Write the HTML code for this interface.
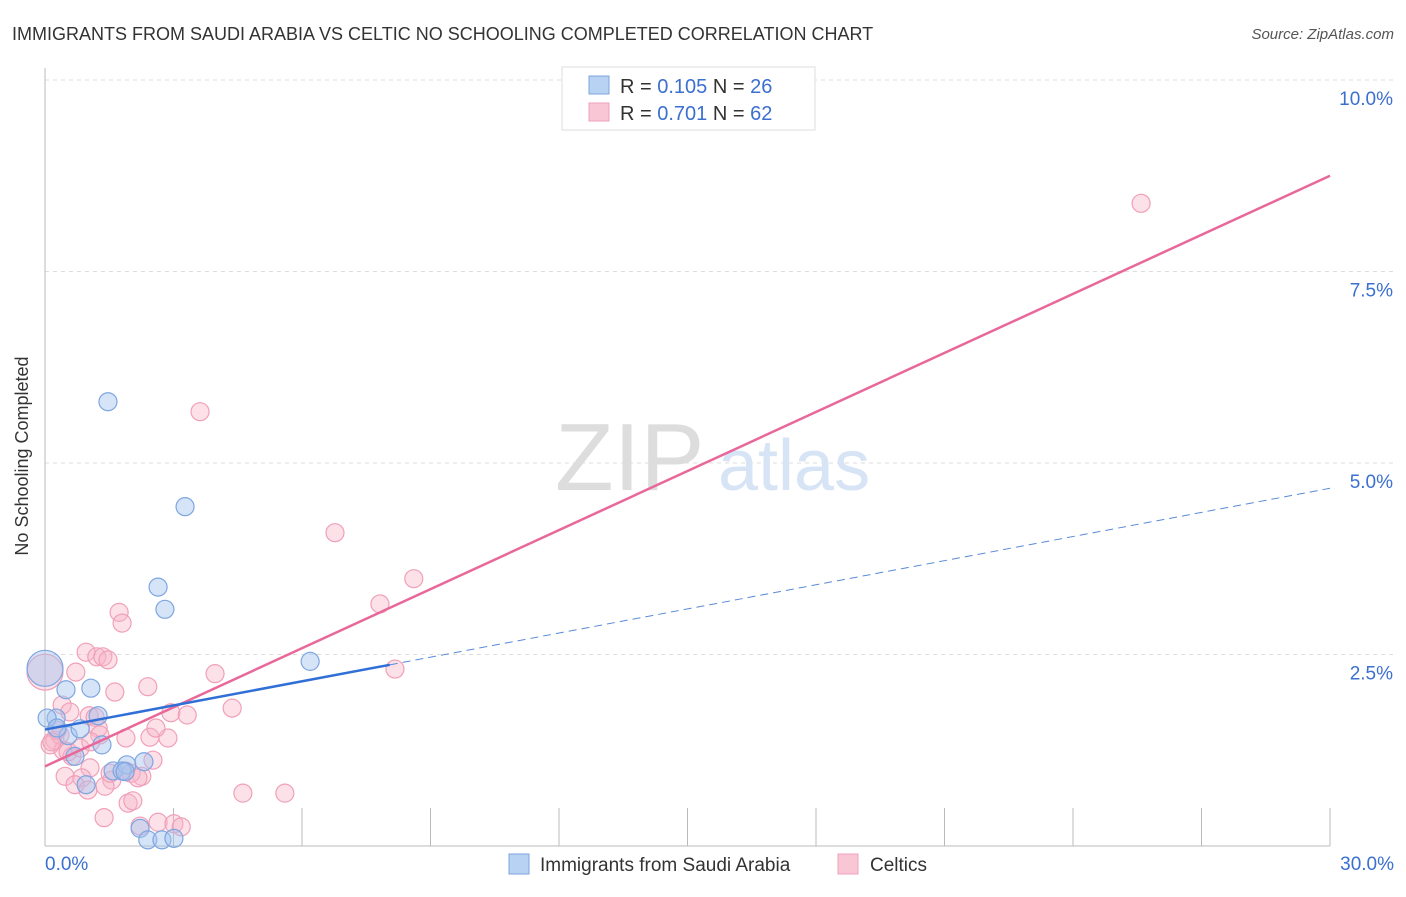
<!DOCTYPE html>
<html><head><meta charset="utf-8"><style>
body{margin:0;background:#fff;font-family:"Liberation Sans",sans-serif}
svg text{font-family:"Liberation Sans",sans-serif}
</style></head><body>
<svg width="1406" height="892">
<text x="12" y="40" font-size="18" fill="#333">IMMIGRANTS FROM SAUDI ARABIA VS CELTIC NO SCHOOLING COMPLETED CORRELATION CHART</text>
<text x="1394" y="39" font-size="15" fill="#555" font-style="italic" text-anchor="end">Source: ZipAtlas.com</text>
<g id="grid"></g>
<text x="555" y="490" font-size="96" fill="#ddd" font-family="Liberation Serif">ZIP</text>
<text x="718" y="490" font-size="72" fill="#d6e4f5">atlas</text>
<g id="axes"></g>
<g id="marks"></g>
<text x="28" y="456" font-size="18" fill="#333" text-anchor="middle" transform="rotate(-90 28 456)">No Schooling Completed</text>
<g>
<rect x="562" y="67" width="253" height="63" fill="#fff" stroke="#ddd"/>
<rect x="589" y="76" width="20" height="18" fill="#b8d2f4" stroke="#7ea6e0"/>
<rect x="589" y="103" width="20" height="18" fill="#f9c6d5" stroke="#f0a0b8"/>
<text x="620" y="93" font-size="20" fill="#333">R = <tspan fill="#3b6fd0">0.105</tspan>   N = <tspan fill="#3b6fd0">26</tspan></text>
<text x="620" y="120" font-size="20" fill="#333">R = <tspan fill="#3b6fd0">0.701</tspan>   N = <tspan fill="#3b6fd0">62</tspan></text>
</g>
<g>
<rect x="509" y="854" width="20" height="20" fill="#b8d2f4" stroke="#7ea6e0"/>
<text x="540" y="871" font-size="19" fill="#333">Immigrants from Saudi Arabia</text>
<rect x="838" y="854" width="20" height="20" fill="#f9c6d5" stroke="#f0a0b8"/>
<text x="870" y="871" font-size="19" fill="#333">Celtics</text>
</g>
</svg>
<script>
const yTicks=[2.5,5.0,7.5,10.0];
const xTickVals=[0,3,6,9,12,15,18,21,24,27,30];
const blueX=[1.47,3.27,2.64,2.80,6.19,0,0.49,1.07,0.26,0.05,1.24,0.54,0.82,1.33,0.70,0.96,1.59,1.91,2.31,1.80,2.22,2.40,2.73,3.01,0.28,1.87];
const blueY=[5.80,4.43,3.38,3.09,2.41,2.32,2.04,2.06,1.67,1.67,1.70,1.44,1.53,1.32,1.17,0.80,0.98,1.06,1.10,0.98,0.23,0.08,0.08,0.10,1.54,0.97];
const pinkX=[25.59,3.62,6.77,8.61,7.82,8.17,1.73,1.80,0.96,1.21,1.35,1.47,0.72,1.63,2.40,3.97,4.37,2.94,3.32,0.40,0.58,1.03,1.17,1.24,0,0.23,0.12,0.42,0.63,1.89,2.45,2.87,2.59,1.87,2.52,1.05,0.47,0.86,1.56,2.26,2.01,1.40,0.70,1.94,2.05,1.38,2.64,3.01,3.18,4.62,5.60,0.35,0.28,0.54,1.52,2.17,0.16,0.82,1.28,1.07,2.22,1.00];
const pinkY=[8.39,5.67,4.09,3.49,3.16,2.31,3.05,2.91,2.53,2.47,2.47,2.43,2.27,2.01,2.08,2.25,1.80,1.74,1.71,1.84,1.75,1.70,1.68,1.54,2.27,1.38,1.32,1.25,1.17,1.41,1.42,1.41,1.54,0.98,1.12,1.02,0.91,0.89,0.86,0.91,0.95,0.78,0.80,0.56,0.59,0.37,0.31,0.29,0.25,0.69,0.69,1.45,1.51,1.23,0.95,0.89,1.36,1.28,1.45,1.36,0.26,0.73];
const blueLine={a:1.52,b:0.105,solidEnd:8.05};
const pinkLine={a:1.04,b:0.257};
const X=v=>45+v/30*1285, Y=v=>846-v*76.6;
const NS='http://www.w3.org/2000/svg';
function mk(t,at,p){const e=document.createElementNS(NS,t);for(const k in at)e.setAttribute(k,at[k]);p.appendChild(e);return e;}
const grid=document.getElementById('grid'),axes=document.getElementById('axes'),marks=document.getElementById('marks');
yTicks.forEach(t=>{
 const l=mk('line',{x1:45,x2:1395,y1:Y(t),y2:Y(t),stroke:'#ddd','stroke-dasharray':'4,4'},grid);
 
 
 const tx=mk('text',{x:1393,y:Y(t)+25,'font-size':19,fill:'#3b6fd0','text-anchor':'end'},axes);
 tx.textContent=t.toFixed(1)+'%';
 
 
});
mk('line',{x1:45,x2:45,y1:68,y2:846,stroke:'#bbb'},axes);
mk('line',{x1:45,x2:1330,y1:846,y2:846,stroke:'#bbb'},axes);
xTickVals.forEach(t=>{
 const l=mk('line',{x1:X(t),x2:X(t),y1:808,y2:846,stroke:'#bbb'},axes);
 
 
});
[[0,'0.0%','start',45],[30,'30.0%','end',1394]].forEach(d=>{
 const tx=mk('text',{x:d[3],y:870,'font-size':19,fill:'#3b6fd0','text-anchor':d[2]},axes);
 tx.textContent=d[1];
 
 
});
function pts(xs,ys,fill,stroke,name){xs.forEach((x,i)=>{
 const big=(x===0);
 const c=mk('circle',{cx:X(x),cy:Y(ys[i]),r:big?18:9,fill:fill,stroke:stroke,'stroke-width':1.2},marks);
 
 
});}
pts(pinkX,pinkY,'rgba(248,180,200,0.4)','#f0a0b8','celtics-point');
pts(blueX,blueY,'rgba(164,196,240,0.45)','#7ea6e0','saudi-point');
let l=mk('line',{x1:X(0),y1:Y(pinkLine.a),x2:X(30),y2:Y(pinkLine.a+pinkLine.b*30),stroke:'#e8689a','stroke-width':2.5},marks);


l=mk('line',{x1:X(0),y1:Y(blueLine.a),x2:X(blueLine.solidEnd),y2:Y(blueLine.a+blueLine.b*blueLine.solidEnd),stroke:'#2f6fd6','stroke-width':2.5},marks);


l=mk('line',{x1:X(blueLine.solidEnd),y1:Y(blueLine.a+blueLine.b*blueLine.solidEnd),x2:X(30),y2:Y(blueLine.a+blueLine.b*30),stroke:'#5a8ad8','stroke-width':1,'stroke-dasharray':'8,5'},marks);


</script>
</body></html>
